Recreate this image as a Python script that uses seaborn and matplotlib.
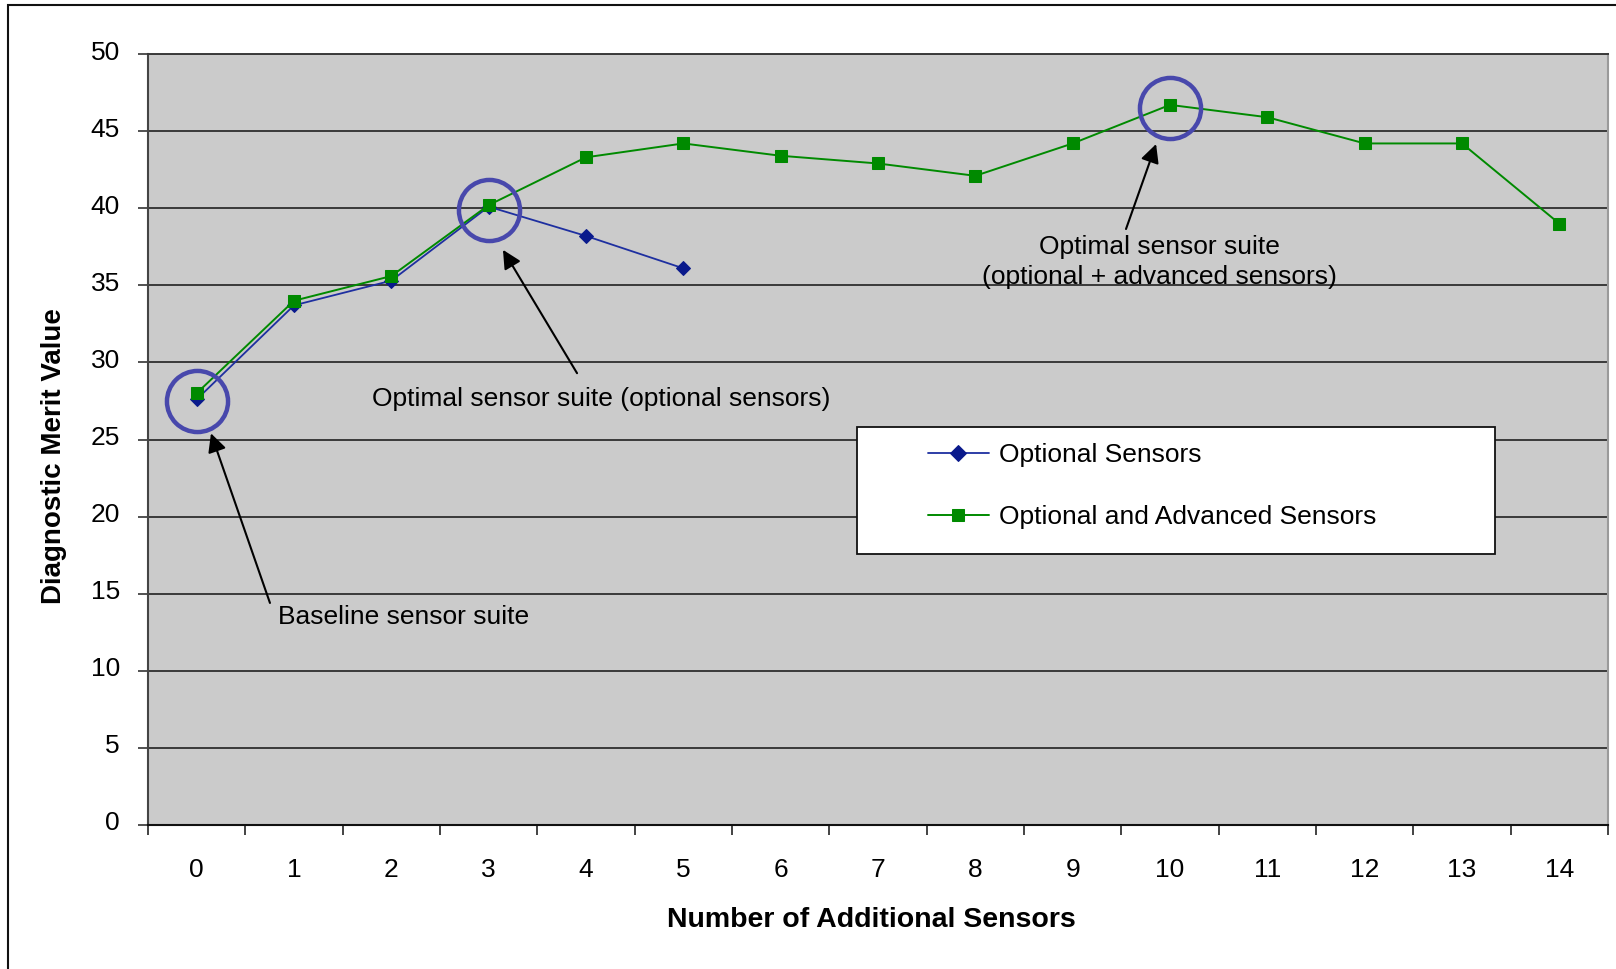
import matplotlib
matplotlib.use("Agg")
import matplotlib.pyplot as plt
import matplotlib.transforms as mtransforms
import seaborn as sns
import pandas as pd
import numpy as np
from matplotlib.patches import Rectangle

# ---------------- data ----------------
categories = list(range(15))
x_tick_labels = [str(c) for c in categories]
optional_x = [0, 1, 2, 3, 4, 5]
optional_vals = [27.6, 33.7, 35.3, 40.1, 38.2, 36.1]
advanced_x = list(range(15))
advanced_vals = [28.0, 34.0, 35.6, 40.2, 43.3, 44.2, 43.4, 42.9, 42.1,
                 44.2, 46.7, 45.9, 44.2, 44.2, 39.0]
y_ticks = [0, 5, 10, 15, 20, 25, 30, 35, 40, 45, 50]
highlight_x = [0, 3, 10]
highlight_y = [27.5, 39.9, 46.5]
series_names = ["Optional Sensors", "Optional and Advanced Sensors"]

# ---------------- style ----------------
sns.set_style("white")
plt.rcParams['font.family'] = ['Liberation Sans', 'DejaVu Sans']
plt.rcParams['text.color'] = 'black'
plt.rcParams['xtick.color'] = 'black'
plt.rcParams['ytick.color'] = 'black'
plt.rcParams['xtick.labelcolor'] = 'black'
plt.rcParams['ytick.labelcolor'] = 'black'

W, H = 1616, 969
fig = plt.figure(figsize=(W / 100, H / 100), dpi=100)

def fx(px):
    return px / W

def fy(py):
    return 1 - py / H

ax_l, ax_r, ax_t, ax_b = 148, 1608, 54, 825
ax = fig.add_axes([fx(ax_l), fy(ax_b), fx(ax_r - ax_l), (ax_b - ax_t) / H])
ax.set_facecolor('#CBCBCB')

df_opt = pd.DataFrame({"x": optional_x, "y": optional_vals})
df_adv = pd.DataFrame({"x": advanced_x, "y": advanced_vals})

blue_line = '#1E2FA0'
blue_mark = '#0A1A8C'
green = '#008A00'

sns.lineplot(data=df_opt, x="x", y="y", ax=ax, color=blue_line, lw=1.3,
             marker='D', markersize=7.5, markerfacecolor=blue_mark,
             markeredgecolor=blue_mark, label=series_names[0], zorder=4)
sns.lineplot(data=df_adv, x="x", y="y", ax=ax, color=green, lw=1.4,
             marker='s', markersize=8, markerfacecolor=green,
             markeredgecolor=green, label=series_names[1], zorder=4)

# highlight circles
ax.plot(highlight_x, highlight_y, linestyle='none', marker='o', markersize=44,
        markerfacecolor='none', markeredgecolor='#4848AC', markeredgewidth=3.2,
        zorder=5)

# axes limits / ticks
ax.set_xlim(-0.5, 14.5)
ax.set_ylim(0, 50)
ax.set_yticks(y_ticks)
ax.set_yticklabels([str(v) for v in y_ticks])
ax.set_xticks(categories)
ax.set_xticklabels(x_tick_labels)
ax.set_xticks(np.arange(-0.5, 15, 1.0), minor=True)
ax.tick_params(axis='x', which='major', length=0, pad=24, labelsize=19)
ax.tick_params(axis='x', which='minor', length=7.2, width=1.2, color='#222222',
               direction='out', bottom=True)
ax.tick_params(axis='y', which='major', length=7.2, width=1.2, color='#333333',
               direction='out', pad=13, labelsize=19, left=True)
offset = mtransforms.ScaledTranslation(0, 4 / 100, fig.dpi_scale_trans)
for lbl in ax.get_yticklabels():
    lbl.set_transform(lbl.get_transform() + offset)
ax.yaxis.grid(True, color='#3a3a3a', lw=1.4)
ax.xaxis.grid(False)
ax.set_axisbelow(True)
ax.set_xlabel("")
ax.set_ylabel("")

for side, col, lw in [('left', '#444444', 1.5), ('bottom', '#111111', 1.5),
                      ('top', '#3a3a3a', 1.4), ('right', '#9a9a9a', 1.5)]:
    ax.spines[side].set_color(col)
    ax.spines[side].set_linewidth(lw)
    ax.spines[side].set_visible(True)

# annotations
arrow_kw = dict(arrowstyle='-|>', color='black', lw=1.5, mutation_scale=28,
                shrinkA=0, shrinkB=0)
ax.annotate("", xy=(0.147, 25.4), xytext=(0.753, 14.4), arrowprops=arrow_kw,
            zorder=6)
ax.text(0.836, 13.5, "Baseline sensor suite", fontsize=19, ha='left',
        va='center', zorder=6)
ax.annotate("", xy=(3.147, 37.3), xytext=(3.908, 29.3), arrowprops=arrow_kw,
            zorder=6)
ax.text(1.80, 27.6, "Optimal sensor suite (optional sensors)", fontsize=19,
        ha='left', va='center', zorder=6)
ax.annotate("", xy=(9.857, 44.16), xytext=(9.548, 38.65), arrowprops=arrow_kw,
            zorder=6)
ax.text(9.887, 36.5, "Optimal sensor suite\n(optional + advanced sensors)",
        fontsize=19, ha='center', va='center', linespacing=1.35, zorder=6)

# legend box
leg_box = Rectangle((fx(857), fy(554)), fx(1495 - 857), (554 - 427) / H,
                    transform=fig.transFigure, facecolor='white',
                    edgecolor='#111111', lw=1.3, zorder=3)
ax.add_patch(leg_box)
leg_box.set_clip_on(False)
leg = ax.legend(loc='upper left', bbox_to_anchor=(fx(928), fy(443)),
                bbox_transform=fig.transFigure, frameon=False, fontsize=19,
                handlelength=2.3, handletextpad=0.4, labelspacing=1.45,
                borderpad=0, borderaxespad=0, markerscale=1.15)
leg.set_zorder(7)
for t in leg.get_texts():
    t.set_color('black')

# axis titles
fig.text(fx(54), fy(456), "Diagnostic Merit Value", rotation=90, fontsize=20,
         fontweight='bold', ha='center', va='center', color='black')
fig.text(fx(871), fy(920), "Number of Additional Sensors", fontsize=20.5,
         fontweight='bold', ha='center', va='center', color='black')

# outer frame
fig.patches.append(Rectangle((fx(8), -0.2), 1.3, fy(5) + 0.2,
                             transform=fig.transFigure, fill=False,
                             edgecolor='#111111', lw=1.5, zorder=0))

fig.savefig("out.png", dpi=100)
